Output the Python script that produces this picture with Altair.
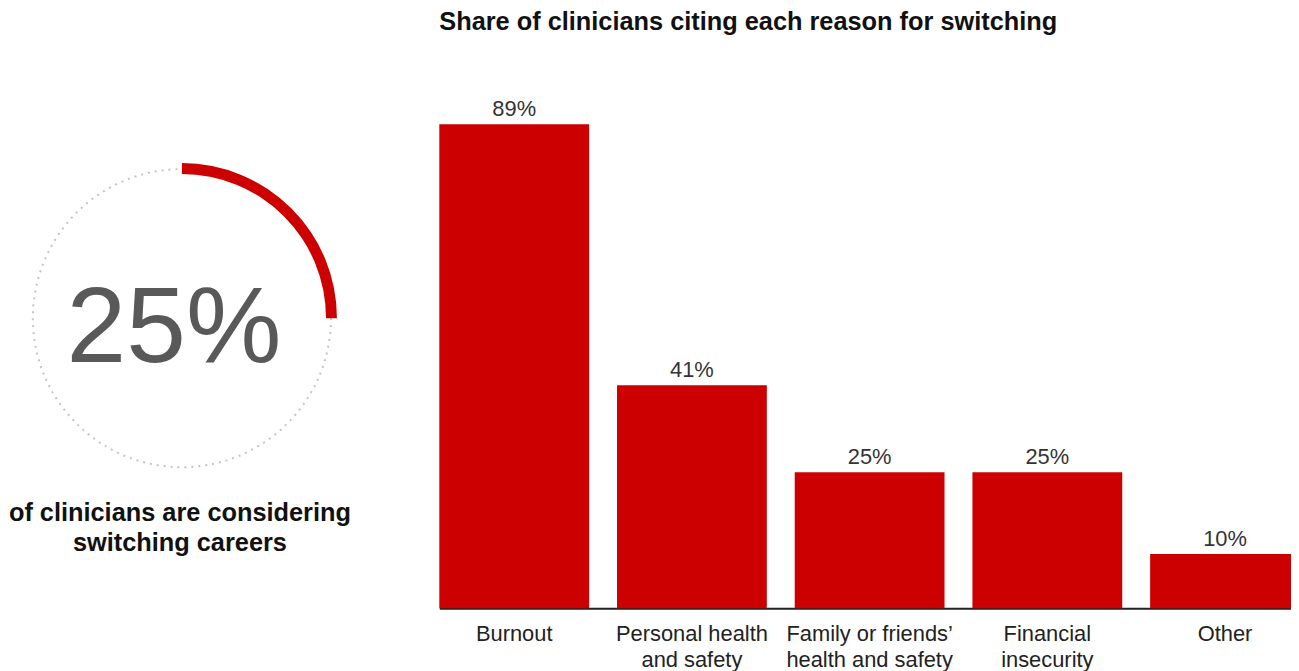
import math
import altair as alt
import pandas as pd

# ---- data ----
reasons = [
    "Burnout",
    "Personal health|and safety",
    "Family or friends’|health and safety",
    "Financial|insecurity",
    "Other",
]
shares = [0.89, 0.41, 0.25, 0.25, 0.10]
headline_share = [0.25]
caption_lines = ["of clinicians are considering", "switching careers"]
title_text = ["Share of clinicians citing each reason for switching"]

RED = "#cc0000"
FONT = "Liberation Sans"

bars_df = pd.DataFrame({"reason": reasons, "share": shares})
head_df = pd.DataFrame({"share": headline_share})
cap_df = pd.DataFrame({"caption": ["\n".join(caption_lines)]})
title_df = pd.DataFrame({"title": title_text})

# ---- bar chart ----
x = alt.X(
    "reason:N",
    sort=None,
    title=None,
    scale=alt.Scale(range=[434, 1300], paddingInner=0.157, paddingOuter=0),
    axis=alt.Axis(
        labelExpr="split(datum.label, '|')",
        labelAngle=0,
        ticks=False,
        domainColor="#222222",
        domainWidth=2,
        labelFontSize=22,
        labelColor="#222222",
        labelPadding=15,
        labelLineHeight=27,
        labelFont=FONT,
    ),
)
y = alt.Y("share:Q", scale=alt.Scale(domain=[0, 1.1], nice=False), axis=None)

bars = alt.Chart(bars_df).mark_bar(color=RED).encode(x=x, y=y)
vals = alt.Chart(bars_df).mark_text(
    dy=-8, baseline="alphabetic", fontSize=22, color="#333333", font=FONT
).encode(x=x, y=y, text=alt.Text("share:Q", format=".0%"))

title = alt.Chart(title_df).mark_text(
    align="left", baseline="middle", fontSize=25.5, fontWeight="bold",
    color="#111111", font=FONT
).encode(x=alt.value(434), y=alt.value(12), text="title:N")

# ---- left ring ----
R = 150
ring_bg = alt.Chart(head_df).mark_point(
    shape="circle", filled=False, size=(2 * R) ** 2,
    stroke="#c4c4c4", strokeWidth=2, strokeDash=[2, 5], opacity=1
).encode(x=alt.value(175), y=alt.value(310))

ring = alt.Chart(head_df).mark_arc(
    radius=156, radius2=145, color=RED
).encode(
    theta=alt.Theta("share:Q", stack=True,
                    scale=alt.Scale(domain=[0, 1], range=[0, 2 * math.pi])),
    x=alt.value(175),
    y=alt.value(310),
)

big = alt.Chart(head_df).mark_text(
    fontSize=108, color="#595959", font=FONT, baseline="alphabetic", align="center"
).encode(x=alt.value(167), y=alt.value(354),
         text=alt.Text("share:Q", format=".0%"))

caption = alt.Chart(cap_df).mark_text(
    fontSize=25.5, fontWeight="bold", color="#111111", font=FONT,
    baseline="alphabetic", align="center", lineBreak="\n", lineHeight=30
).encode(x=alt.value(173), y=alt.value(514), text="caption:N")

chart = alt.layer(ring_bg, ring, big, caption, bars, vals, title).properties(
    width=1291,
    height=602,
    autosize=alt.AutoSizeParams(type="none"),
    padding={"left": 0, "top": 0, "right": 0, "bottom": 61},
).configure_view(stroke=None)

chart.save("out.html", embed_options={"renderer": "svg", "actions": False})
